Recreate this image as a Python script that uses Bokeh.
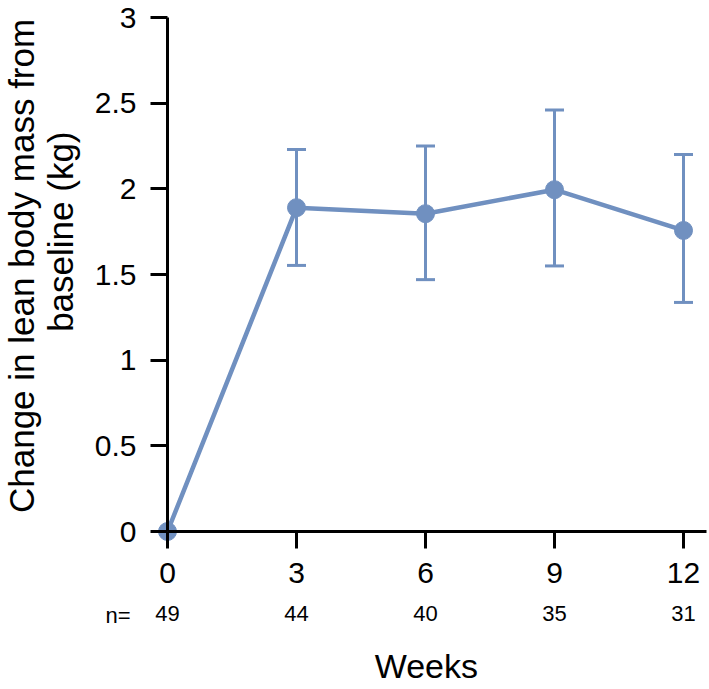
from bokeh.plotting import figure
from bokeh.models import ColumnDataSource, Whisker, TeeHead, Label, LabelSet, FixedTicker
from bokeh.embed import file_html
from bokeh.resources import INLINE
from bokeh.core.properties import value
import math

weeks = [0, 3, 6, 9, 12]
change = [0.0, 1.89, 1.855, 1.995, 1.757]
upper = [0.0, 2.23, 2.25, 2.46, 2.20]
lower = [0.0, 1.553, 1.47, 1.55, 1.337]
n_vals = ["49", "44", "40", "35", "31"]
y_ticks = [0, 0.5, 1, 1.5, 2, 2.5, 3]
y_tick_labels = ["0", "0.5", "1", "1.5", "2", "2.5", "3"]
x_ticks = [0, 3, 6, 9, 12]

FONT = "Liberation Sans"
COL = "#7090c0"

W, H = 708, 688
X0, Y0 = 167.0, 531.0          # pixel position of data origin
SX, SY = 43.0, 171.33           # px per unit

p = figure(width=W, height=H,
           x_range=(-X0 / SX, (W - X0) / SX),
           y_range=(-(H - Y0) / SY, Y0 / SY),
           output_backend="svg", toolbar_location=None,
           min_border_left=0, min_border_right=0, min_border_top=0, min_border_bottom=0)
p.outline_line_color = None
p.xgrid.visible = False
p.ygrid.visible = False
p.background_fill_color = "white"

src = ColumnDataSource(dict(x=weeks, y=change, up=upper, lo=lower, n=n_vals,
                            ny=[-0.525] * len(weeks)))

w = Whisker(base="x", upper="up", lower="lo", source=src, line_color=COL, line_width=3,
            upper_head=TeeHead(size=19, line_color=COL, line_width=3),
            lower_head=TeeHead(size=19, line_color=COL, line_width=3))
p.add_layout(w)
p.line("x", "y", source=src, line_color=COL, line_width=4.5)
p.scatter("x", "y", source=src, size=18, fill_color=COL, line_color=COL)

for ax in (p.xaxis[0], p.yaxis[0]):
    ax.fixed_location = 0
    ax.axis_line_width = 3
    ax.axis_line_color = "black"
    ax.major_tick_line_width = 3
    ax.major_tick_line_color = "black"
    ax.major_tick_out = 17
    ax.major_tick_in = 0
    ax.minor_tick_out = 0
    ax.minor_tick_in = 0
    ax.major_label_text_font = FONT
    ax.major_label_text_font_size = "30px"
    ax.major_label_text_color = "black"

p.yaxis[0].ticker = FixedTicker(ticks=y_ticks)
p.yaxis[0].major_label_overrides = {t: l for t, l in zip(y_ticks, y_tick_labels)}
p.yaxis[0].bounds = (0, 3)
p.yaxis[0].major_label_standoff = 14

p.xaxis[0].ticker = FixedTicker(ticks=x_ticks)
p.xaxis[0].major_label_overrides = {t: str(t) for t in x_ticks}
p.xaxis[0].bounds = (0, 12.53)
p.xaxis[0].major_label_standoff = 14

# n row
nl = LabelSet(x="x", y="ny", text="n", source=src, text_font=value(FONT),
              text_font_size="22px", text_align="center", text_baseline="alphabetic",
              text_color="black")
p.add_layout(nl)
p.add_layout(Label(x=-1.44, y=-0.49, text="n=", text_font=FONT, text_font_size="22px",
                   text_align="left", text_baseline="alphabetic", text_color="black"))

# axis titles
p.add_layout(Label(x=6.02, y=-0.785, text="Weeks", text_font=FONT, text_font_size="34px",
                   text_align="center", text_baseline="alphabetic", text_color="black"))
p.add_layout(Label(x=-3.396, y=1.55, text="Change in lean body mass from", angle=math.pi / 2,
                   text_font=FONT, text_font_size="35px", text_align="center",
                   text_baseline="alphabetic", text_color="black"))
p.add_layout(Label(x=-2.49, y=1.75, text="baseline (kg)", angle=math.pi / 2,
                   text_font=FONT, text_font_size="35px", text_align="center",
                   text_baseline="alphabetic", text_color="black"))

open("out.html", "w").write(file_html(p, INLINE))
